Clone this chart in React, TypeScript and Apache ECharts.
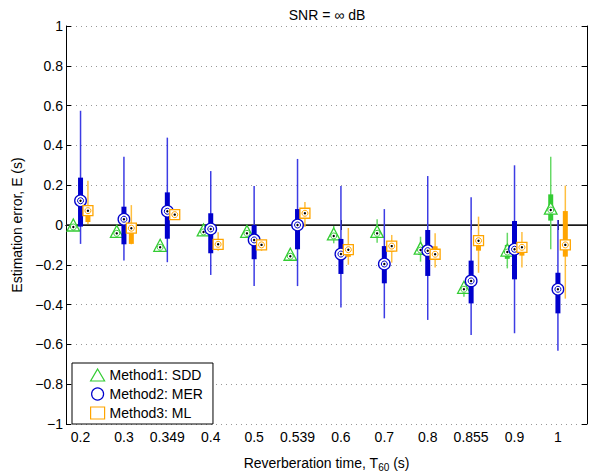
import React, { useEffect, useRef } from 'react';
import * as echarts from 'echarts';

const categories = ['0.2', '0.3', '0.349', '0.4', '0.5', '0.539', '0.6', '0.7', '0.8', '0.855', '0.9', '1'];
const xPositions = categories.map((_, i) => i + 1);
const xRange = [0.665, 12.67];
const zeroLine = [[xRange[0], 0], [xRange[1], 0]];

// Method1: SDD (green)
const sddLow = [-0.03, -0.06, -0.13, -0.05, -0.06, -0.175, -0.092, -0.089, -0.184, -0.36, -0.218, -0.122];
const sddQ1 = [-0.02, -0.05, -0.12, -0.045, -0.05, -0.165, -0.07, -0.06, -0.15, -0.34, -0.17, 0.022];
const sddMed = [-0.01, -0.042, -0.112, -0.035, -0.042, -0.157, -0.055, -0.042, -0.126, -0.323, -0.136, 0.075];
const sddQ3 = [0.0, -0.035, -0.1, -0.025, -0.03, -0.15, -0.04, -0.02, -0.1, -0.31, -0.1, 0.154];
const sddHigh = [0.01, -0.02, -0.09, -0.02, -0.025, -0.14, -0.005, 0.029, -0.059, -0.3, -0.039, 0.343];

// Method2: MER (blue)
const merLow = [-0.095, -0.179, -0.187, -0.251, -0.307, -0.307, -0.414, -0.469, -0.477, -0.553, -0.544, -0.632];
const merQ1 = [-0.008, -0.097, -0.069, -0.142, -0.172, -0.122, -0.246, -0.293, -0.256, -0.394, -0.273, -0.444];
const merMed = [0.122, 0.029, 0.069, -0.02, -0.075, 0.0, -0.146, -0.196, -0.129, -0.281, -0.122, -0.323];
const merQ3 = [0.238, 0.092, 0.164, 0.059, 0.0, 0.08, -0.07, -0.106, -0.025, -0.179, 0.02, -0.24];
const merHigh = [0.574, 0.343, 0.439, 0.271, 0.196, 0.332, 0.196, 0.08, 0.246, 0.139, 0.3, 0.025];

// Method3: ML (orange)
const mlLow = [0.005, -0.097, 0.03, -0.13, -0.13, -0.01, -0.2, -0.189, -0.213, -0.24, -0.213, -0.37];
const mlQ1 = [0.015, -0.095, 0.035, -0.12, -0.12, 0.03, -0.16, -0.134, -0.176, -0.129, -0.154, -0.159];
const mlMed = [0.072, -0.016, 0.052, -0.097, -0.1, 0.059, -0.124, -0.106, -0.147, -0.079, -0.112, -0.1];
const mlQ3 = [0.088, 0.002, 0.07, -0.08, -0.085, 0.08, -0.1, -0.084, -0.107, -0.055, -0.089, 0.07];
const mlHigh = [0.222, 0.1, 0.08, -0.037, -0.075, 0.116, -0.015, -0.05, -0.042, 0.042, -0.035, 0.198];

const GREEN = '#33cc33';
const BLUE = '#0000cc';
const ORANGE = '#ffa500';
const FONT = '"Liberation Sans", Arial, Helvetica, sans-serif';

function rows(lo: number[], q1: number[], med: number[], q3: number[], hi: number[]) {
  return xPositions.map((x, i) => [x, lo[i], q1[i], med[i], q3[i], hi[i]]);
}

function makeRenderer(offset: number, color: string, whisker: string, shape: string) {
  return (params: any, api: any) => {
    const x = api.value(0);
    const lo = api.coord([x, api.value(1)]);
    const q1 = api.coord([x, api.value(2)]);
    const med = api.coord([x, api.value(3)]);
    const q3 = api.coord([x, api.value(4)]);
    const hi = api.coord([x, api.value(5)]);
    const cx = lo[0] + offset;
    const my = med[1];
    const children: any[] = [
      { type: 'line', shape: { x1: cx, y1: hi[1], x2: cx, y2: lo[1] }, style: { stroke: whisker, lineWidth: 1.5 } },
      { type: 'rect', shape: { x: cx - 2.5, y: q3[1], width: 5, height: Math.max(q1[1] - q3[1], 0.5) }, style: { fill: color } },
    ];
    if (shape === 'triangle') {
      children.push({
        type: 'polygon',
        shape: { points: [[cx, my - 8], [cx + 6.3, my + 4], [cx - 6.3, my + 4]] },
        style: { fill: '#fff', stroke: color, lineWidth: 1.3 },
      });
    } else if (shape === 'circle') {
      children.push({ type: 'circle', shape: { cx, cy: my, r: 5.8 }, style: { fill: '#fff', stroke: color, lineWidth: 1.3 } });
    } else {
      children.push({ type: 'rect', shape: { x: cx - 5, y: my - 5, width: 10, height: 10 }, style: { fill: '#fff', stroke: color, lineWidth: 1.3 } });
    }
    children.push({ type: 'circle', shape: { cx, cy: my, r: 3 }, style: { fill: '#fff', stroke: color, lineWidth: 1 } });
    children.push({ type: 'circle', shape: { cx, cy: my, r: 1.2 }, style: { fill: '#000' } });
    return { type: 'group', children };
  };
}

function yLabel(v: number) {
  if (Math.abs(v) < 1e-9) return '0';
  const a = Math.abs(v);
  const s = Math.abs(a - 1) < 1e-9 ? '1' : a.toFixed(1);
  return (v < 0 ? '\u2212' : '') + s;
}

export default function App() {
  const ref = useRef<HTMLDivElement>(null);
  useEffect(() => {
    if (!ref.current) return;
    const chart = echarts.init(ref.current, undefined, { renderer: 'svg' });
    const names = ['Method1: SDD', 'Method2: MER', 'Method3: ML'];
    const axisLine = { show: true, lineStyle: { color: '#000', width: 1 } };
    const yBase = { type: 'value', min: -1, max: 1, interval: 0.2 };
    const xBase = { type: 'value', min: xRange[0], max: xRange[1] };
    chart.setOption({
      animation: false,
      backgroundColor: '#fff',
      textStyle: { fontFamily: FONT },
      title: {
        text: 'SNR = \u221e dB',
        left: 322,
        textAlign: 'center',
        top: 3,
        textStyle: { fontSize: 14, fontWeight: 'normal', color: '#000', fontFamily: FONT },
      },
      grid: { left: 66, right: 6, top: 26, bottom: 51, containLabel: false, outerBoundsMode: 'none' },
      legend: {
        orient: 'vertical',
        left: 72,
        top: 363,
        itemWidth: 14,
        itemHeight: 12,
        itemGap: 5,
        padding: [5, 10, 4, 18],
        borderColor: '#000',
        borderWidth: 1,
        backgroundColor: '#fff',
        textStyle: { fontSize: 14, color: '#000', fontFamily: FONT },
        data: [
          { name: names[0], icon: 'triangle', itemStyle: { color: 'transparent', borderColor: GREEN, borderWidth: 1.2 } },
          { name: names[1], icon: 'circle', itemStyle: { color: 'transparent', borderColor: BLUE, borderWidth: 1.2 } },
          { name: names[2], icon: 'rect', itemStyle: { color: 'transparent', borderColor: ORANGE, borderWidth: 1.2 } },
        ],
      },
      xAxis: [
        {
          ...xBase,
          position: 'bottom',
          name: '{a|Reverberation time, T}{b|60}{a| (s)}',
          nameLocation: 'middle',
          nameGap: 29,
          nameTextStyle: {
            rich: {
              a: { fontSize: 14, color: '#000', fontFamily: FONT },
              b: { fontSize: 10, color: '#000', fontFamily: FONT, padding: [9, 0, 0, 0] },
            },
          },
          axisLine,
          axisTick: { show: true, inside: true, length: 5, customValues: xPositions, lineStyle: { color: '#000' } },
          axisLabel: {
            show: true,
            customValues: xPositions,
            margin: 6,
            fontSize: 14,
            color: '#000',
            fontFamily: FONT,
            formatter: (v: number) => categories[Math.round(v) - 1] ?? '',
          },
          splitLine: { show: false },
        },
        {
          ...xBase,
          position: 'top',
          axisLine,
          axisTick: { show: true, inside: true, length: 5, customValues: xPositions, lineStyle: { color: '#000' } },
          axisLabel: { show: false },
          splitLine: { show: false },
        },
      ],
      yAxis: [
        {
          ...yBase,
          position: 'left',
          name: 'Estimation error, E (s)',
          nameLocation: 'middle',
          nameGap: 28,
          nameTextStyle: { fontSize: 14, color: '#000', fontFamily: FONT },
          axisLine,
          axisTick: { show: true, inside: true, length: 5, lineStyle: { color: '#000' } },
          axisLabel: { fontSize: 14, color: '#000', margin: 3, fontFamily: FONT, formatter: yLabel },
          splitLine: { show: true, lineStyle: { color: '#999', type: [1, 4], width: 1 } },
        },
        {
          ...yBase,
          position: 'right',
          axisLine,
          axisTick: { show: true, inside: true, length: 5, lineStyle: { color: '#000' } },
          axisLabel: { show: false },
          splitLine: { show: false },
        },
      ],
      series: [
        {
          type: 'line',
          data: zeroLine,
          symbol: 'none',
          silent: true,
          lineStyle: { color: '#222', width: 1.6 },
          z: 1,
        },
        {
          type: 'custom',
          name: names[0],
          data: rows(sddLow, sddQ1, sddMed, sddQ3, sddHigh),
          encode: { x: 0, y: 3 },
          renderItem: makeRenderer(-7.2, GREEN, '#66d966', 'triangle'),
          itemStyle: { color: 'transparent', borderColor: GREEN },
          z: 3,
        },
        {
          type: 'custom',
          name: names[1],
          data: rows(merLow, merQ1, merMed, merQ3, merHigh),
          encode: { x: 0, y: 3 },
          renderItem: makeRenderer(0, BLUE, '#3c3ce4', 'circle'),
          itemStyle: { color: 'transparent', borderColor: BLUE },
          z: 3,
        },
        {
          type: 'custom',
          name: names[2],
          data: rows(mlLow, mlQ1, mlMed, mlQ3, mlHigh),
          encode: { x: 0, y: 3 },
          renderItem: makeRenderer(7.4, ORANGE, '#ffbf40', 'square'),
          itemStyle: { color: 'transparent', borderColor: ORANGE },
          z: 3,
        },
      ],
    });
    return () => chart.dispose();
  }, []);
  return <div ref={ref} style={{ position: 'absolute', left: 0, top: 0, width: 593, height: 475 }} />;
}
